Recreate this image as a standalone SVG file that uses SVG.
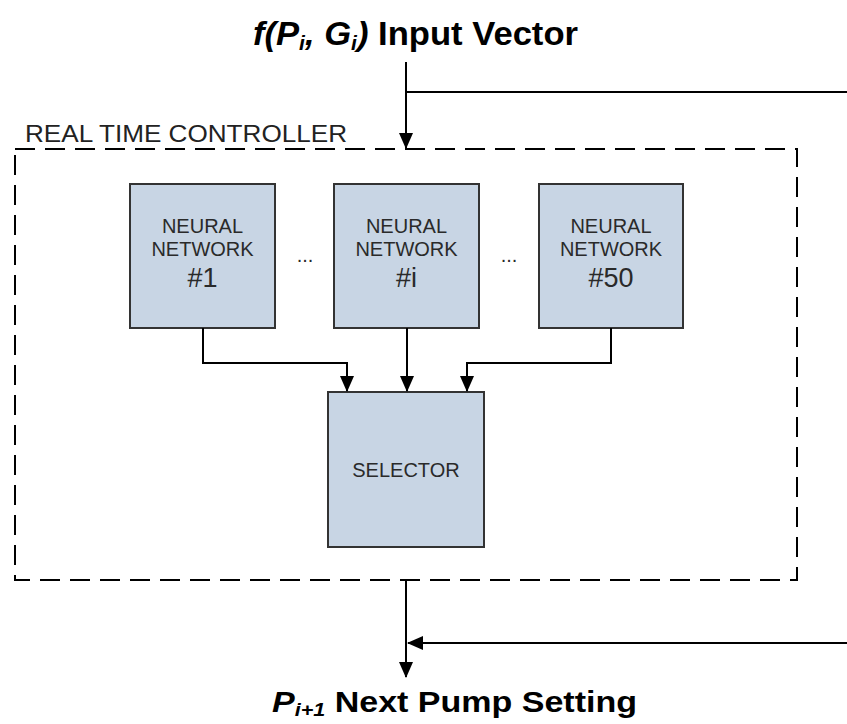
<svg xmlns="http://www.w3.org/2000/svg" width="847" height="724" viewBox="0 0 847 724">
<style>
.box{fill:#c8d5e4;stroke:#333;stroke-width:2}
.lbl{font-family:"Liberation Sans",Arial,sans-serif;fill:#2a2a2a;text-anchor:middle}
.s{font-size:20px}
.b{font-size:27px}
.ln{fill:none;stroke:#000;stroke-width:2}
.ttl{font-family:"Liberation Sans",Arial,sans-serif;font-weight:bold;fill:#000}
</style>
<defs>
<marker id="ah2" markerWidth="16" markerHeight="14" refX="15" refY="7" orient="auto" markerUnits="userSpaceOnUse" viewBox="0 0 16 14">
<path d="M0,0 L16,7 L0,14 z" fill="#000"/>
</marker>
</defs>
<text class="ttl" x="253" y="45" font-size="33" textLength="325" lengthAdjust="spacingAndGlyphs"><tspan font-style="italic">f(P<tspan font-size="20" dy="5">i</tspan><tspan dy="-5">, G</tspan><tspan font-size="20" dy="5">i</tspan><tspan dy="-5">)</tspan></tspan> Input Vector</text>
<text class="ttl" x="272" y="712" font-size="30" textLength="365" lengthAdjust="spacingAndGlyphs"><tspan font-style="italic">P<tspan font-size="19" dy="4">i+1</tspan></tspan><tspan dy="-4">  Next Pump Setting</tspan></text>
<g id="controller">
<rect x="15" y="149" width="782" height="431" fill="none" stroke="#000" stroke-width="2" stroke-dasharray="20,10"/>
<text x="25" y="142" font-family="Liberation Sans,Arial,sans-serif" font-size="24" fill="#222" textLength="322" lengthAdjust="spacingAndGlyphs">REAL TIME CONTROLLER</text>
</g>
<g id="nn1">
<rect class="box" x="130" y="184" width="145" height="144"/>
<text class="lbl s" x="202.5" y="233">NEURAL</text>
<text class="lbl s" x="202.5" y="256">NETWORK</text>
<text class="lbl b" x="202.5" y="287">#1</text>
</g>
<g id="nni">
<rect class="box" x="334" y="184" width="145" height="144"/>
<text class="lbl s" x="406.5" y="233">NEURAL</text>
<text class="lbl s" x="406.5" y="256">NETWORK</text>
<text class="lbl b" x="406.5" y="287">#i</text>
</g>
<g id="nn50">
<rect class="box" x="539" y="184" width="144" height="144"/>
<text class="lbl s" x="611" y="233">NEURAL</text>
<text class="lbl s" x="611" y="256">NETWORK</text>
<text class="lbl b" x="611" y="287">#50</text>
</g>
<g id="dots">
<text class="lbl s" x="305" y="262">...</text>
<text class="lbl s" x="509" y="262">...</text>
</g>
<g id="selector">
<rect class="box" x="328" y="392" width="156" height="155"/>
<text class="lbl s" x="406" y="477">SELECTOR</text>
</g>
<g id="connectors">
<path class="ln" d="M406,62 V148" marker-end="url(#ah2)"/>
<path class="ln" d="M406,92 H847"/>
<path class="ln" d="M203,328 V363 H347 V391" marker-end="url(#ah2)"/>
<path class="ln" d="M407,328 V391" marker-end="url(#ah2)"/>
<path class="ln" d="M611,328 V363 H467 V391" marker-end="url(#ah2)"/>
<path class="ln" d="M406,580 V677" marker-end="url(#ah2)"/>
<path class="ln" d="M847,643 H408" marker-end="url(#ah2)"/>
</g>
</svg>
